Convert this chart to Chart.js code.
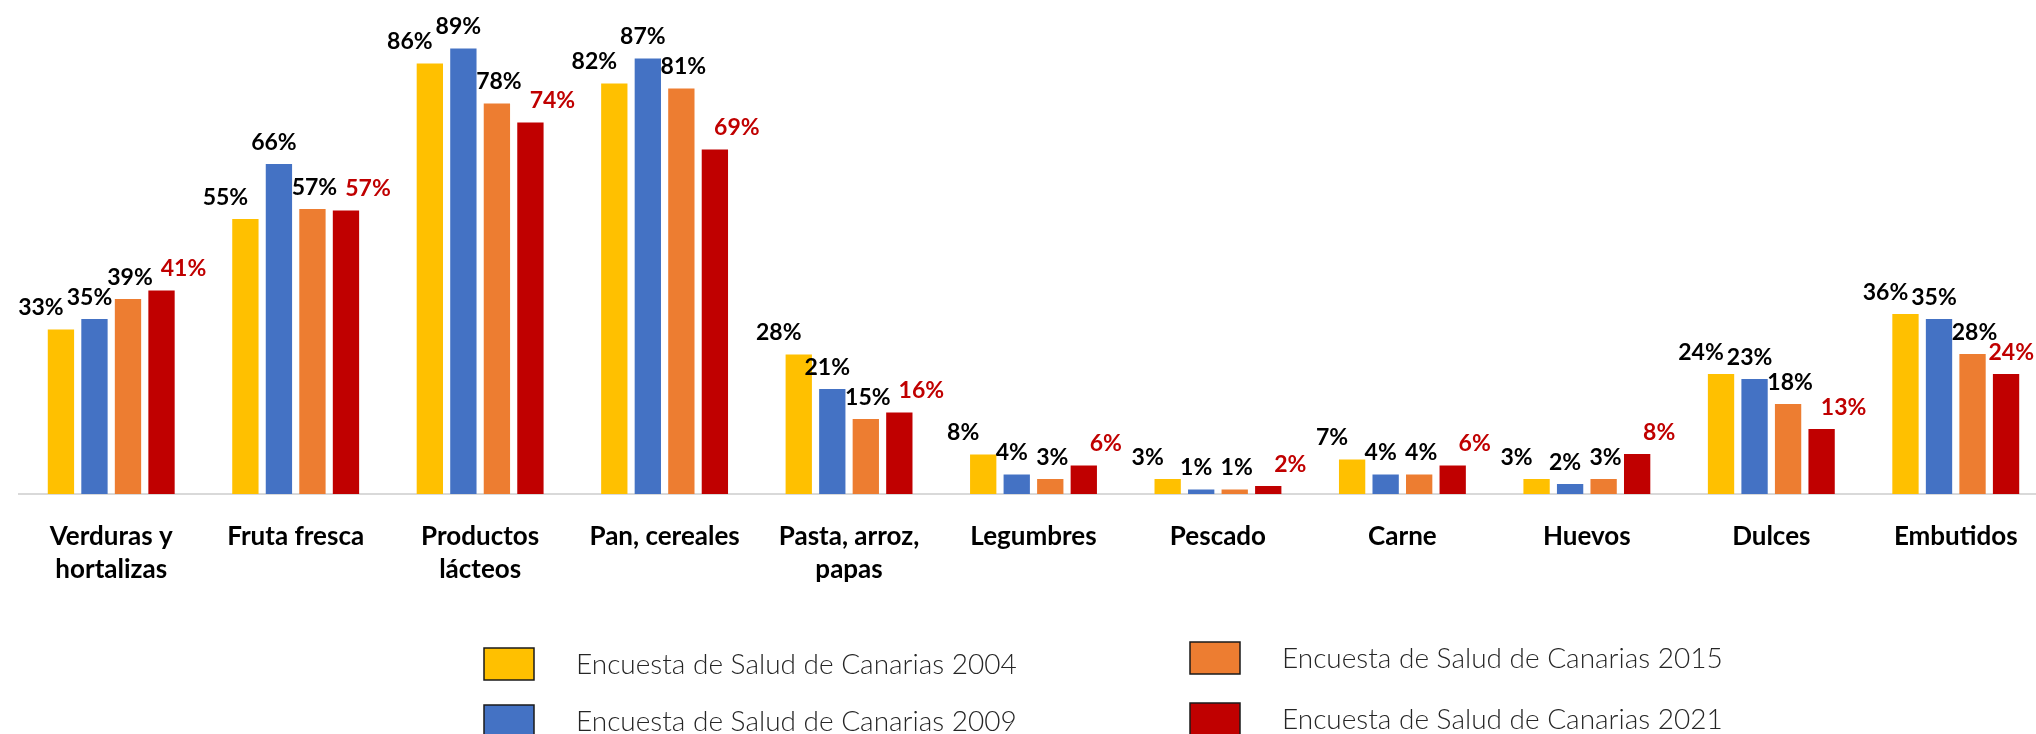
<!DOCTYPE html>
<html lang="es">
<head>
    <meta charset="UTF-8">
    <title>Consumo de alimentos - Encuesta de Salud de Canarias</title>
    <script src="https://cdn.jsdelivr.net/npm/chart.js"></script>
    <style>
        html, body { margin: 0; padding: 0; background: #fff; overflow: hidden; }
        .contenedor { position: relative; width: 2048px; height: 734px; }
    </style>
</head>
<body>
    <div class="contenedor">
        <canvas id="grafico" width="2048" height="734"></canvas>
    </div>

    <script>
        // Datos (%)
        const categorias = [
            ['Verduras y', 'hortalizas'], 'Fruta fresca', ['Productos', 'lácteos'], 'Pan, cereales',
            ['Pasta, arroz,', 'papas'], 'Legumbres', 'Pescado', 'Carne', 'Huevos', 'Dulces', 'Embutidos'
        ];
        const nombresSeries = [
            'Encuesta de Salud de Canarias 2004',
            'Encuesta de Salud de Canarias 2009',
            'Encuesta de Salud de Canarias 2015',
            'Encuesta de Salud de Canarias 2021'
        ];
        const esc2004 = [32.9, 55.0, 86.1, 82.1, 27.9, 7.9, 3.0, 6.9, 3.0, 24.0, 36.0];
        const esc2009 = [35.0, 66.0, 89.1, 87.1, 21.0, 3.9, 0.9, 3.9, 2.0, 23.0, 35.0];
        const esc2015 = [39.0, 57.0, 78.1, 81.1, 15.0, 3.0, 0.9, 3.9, 3.0, 18.0, 28.0];
        const esc2021 = [40.7, 56.7, 74.3, 68.9, 16.3, 5.7, 1.6, 5.7, 8.0, 13.0, 24.0];
        const colores = ['#FFC000', '#4472C4', '#ED7D31', '#C00000'];

        const valores = [esc2004, esc2009, esc2015, esc2021];

        // Etiquetas de porcentaje encima de cada barra
        const etiquetas = {
            id: 'etiquetas',
            afterDatasetsDraw(chart) {
                const ctx = chart.ctx;
                const desplaz = [-20, -5, 2, 22];
                const limite = 2034;
                chart.data.datasets.forEach((ds, i) => {
                    const meta = chart.getDatasetMeta(i);
                    ctx.save();
                    ctx.font = 'bold 23px Lato, "DejaVu Sans", sans-serif';
                    ctx.fillStyle = i === 3 ? '#C00000' : '#000000';
                    ctx.textAlign = 'center';
                    ctx.textBaseline = 'bottom';
                    meta.data.forEach((barra, j) => {
                        const texto = Math.round(ds.data[j]) + '%';
                        const mitad = ctx.measureText(texto).width / 2;
                        let x = barra.x + desplaz[i];
                        if (x + mitad > limite) x = limite - mitad;
                        ctx.fillText(texto, x, barra.y - 10);
                    });
                    ctx.restore();
                });
            }
        };

        // Leyenda en dos columnas, dibujada a mano
        const leyenda = {
            id: 'leyenda',
            afterDraw(chart) {
                const ctx = chart.ctx;
                const posiciones = [[484, 648], [484, 705], [1190, 642], [1190, 703]];
                chart.data.datasets.forEach((ds, i) => {
                    const [x, y] = posiciones[i];
                    ctx.save();
                    ctx.fillStyle = ds.backgroundColor;
                    ctx.fillRect(x, y, 50, 32);
                    ctx.strokeStyle = '#1a1a1a';
                    ctx.lineWidth = 1.5;
                    ctx.strokeRect(x, y, 50, 32);
                    ctx.font = '300 28px Lato, "Open Sans", sans-serif';
                    ctx.fillStyle = '#262626';
                    ctx.textAlign = 'left';
                    ctx.textBaseline = 'middle';
                    ctx.fillText(ds.label, x + 92, y + 17);
                    ctx.restore();
                });
            }
        };

        const ctx = document.getElementById('grafico').getContext('2d');
        new Chart(ctx, {
            type: 'bar',
            data: {
                labels: categorias,
                datasets: valores.map((v, i) => ({
                    label: nombresSeries[i],
                    data: v,
                    backgroundColor: colores[i],
                    borderWidth: 0,
                    categoryPercentage: 0.727,
                    barPercentage: 0.785
                }))
            },
            options: {
                responsive: false,
                animation: false,
                layout: { padding: { left: 19, right: 0, top: 0, bottom: 0 } },
                plugins: {
                    legend: { display: false },
                    tooltip: { enabled: false }
                },
                scales: {
                    x: {
                        grid: { display: false },
                        border: { display: true, color: '#D9D9D9', width: 2 },
                        ticks: {
                            color: '#000000',
                            padding: 18,
                            maxRotation: 0,
                            autoSkip: false,
                            font: { family: 'Lato', weight: 'bold', size: 26, lineHeight: 1.27 }
                        },
                        afterFit(scale) { scale.height = 240; }
                    },
                    y: {
                        display: false,
                        min: 0,
                        max: 98.8
                    }
                }
            },
            plugins: [etiquetas, leyenda]
        });
    </script>
</body>
</html>
